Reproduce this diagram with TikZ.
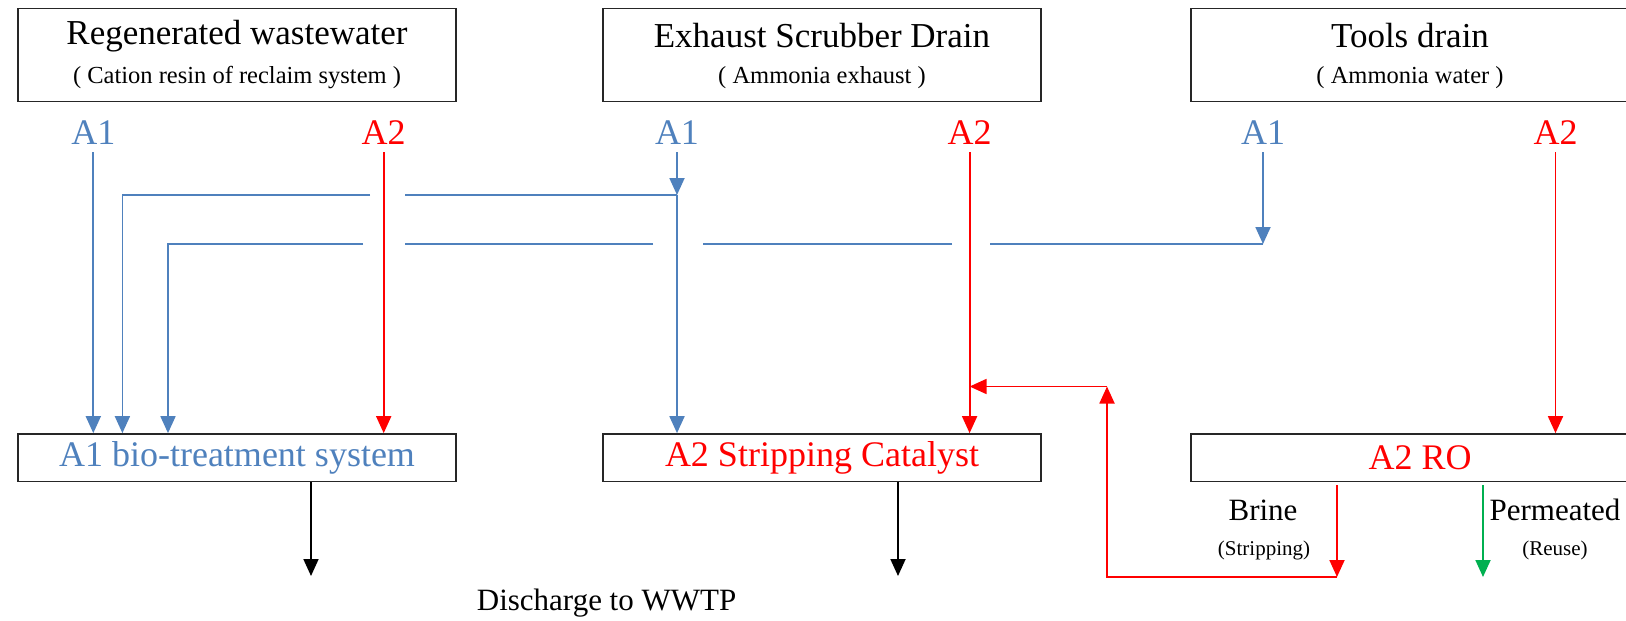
\documentclass[tikz,border=0pt]{standalone}
\usepackage{fontspec}
\setmainfont{Liberation Serif}
\usetikzlibrary{arrows.meta}
\definecolor{aone}{RGB}{79,129,189}
\definecolor{atwo}{RGB}{255,0,0}
\definecolor{perm}{RGB}{0,176,80}
\begin{document}
\begin{tikzpicture}[x=1pt,y=-1pt,
  box/.style={draw=black!85, line width=1.8pt, minimum width=438pt, inner sep=0pt},
  topbox/.style={box, minimum height=93pt},
  botbox/.style={box, minimum height=47.5pt},
  ttl/.style={inner sep=0pt, font=\fontsize{35}{40}\selectfont},
  sub/.style={inner sep=0pt, font=\fontsize{24.5}{28}\selectfont},
  lbl/.style={inner sep=0pt, font=\fontsize{36}{40}\selectfont},
  bottxt/.style={inner sep=0pt, font=\fontsize{36}{40}\selectfont},
  note/.style={inner sep=0pt, font=\fontsize{31}{36}\selectfont},
  small/.style={inner sep=0pt, font=\fontsize{21}{24}\selectfont},
  pipe/.style={line width=1.8pt},
  flow/.style={pipe, -{Triangle[length=17pt,width=15pt]}},
  bl/.style={color=aone},
  rd/.style={color=atwo},
]
\useasboundingbox (0,0) rectangle (1626,621);
\fill[white] (0,0) rectangle (1626,621);

% top boxes
\node[topbox] (src1) at (237,55) {};
\node[topbox] (src2) at (822,55) {};
\node[topbox] (src3) at (1410,55) {};
\node[ttl] (t1) at (237,36) {Regenerated wastewater};
\node[sub] (s1) at (237,78) {( Cation resin of reclaim system )};
\node[ttl] (t2) at (822,36) {Exhaust Scrubber Drain};
\node[sub] (s2) at (822,78) {( Ammonia exhaust )};
\node[ttl] (t3) at (1410,36) {Tools drain};
\node[sub] (s3) at (1410,78) {( Ammonia water )};

% labels
\node[lbl, text=aone] (l11) at (93.3,133) {A1};
\node[lbl, text=atwo] (l12) at (383.7,133) {A2};
\node[lbl, text=aone] (l21) at (677,133) {A1};
\node[lbl, text=atwo] (l22) at (969.6,133) {A2};
\node[lbl, text=aone] (l31) at (1263,133) {A1};
\node[lbl, text=atwo] (l32) at (1555.5,133) {A2};

% bottom boxes
\node[botbox] (dst1) at (237,457.8) {};
\node[botbox] (dst2) at (822,457.8) {};
\node[botbox] (dst3) at (1410,457.8) {};
\node[bottxt, text=aone] (b1) at (237,457.8) {A1 bio-treatment system};
\node[bottxt, text=atwo] (b2) at (822,457.8) {A2 Stripping Catalyst};
\node[bottxt, text=atwo] (b3) at (1420,457.8) {A2 RO};

% coordinates
\coordinate (j1) at (677,195);
\coordinate (j2) at (1263,244);
\coordinate (c1) at (122.4,195);
\coordinate (c2) at (168,244);
\coordinate (g1r) at (404.5,195);
\coordinate (g1l) at (370,195);
\coordinate (g2a) at (990,244);
\coordinate (g2b) at (952,244);
\coordinate (g2c) at (703,244);
\coordinate (g2d) at (653,244);
\coordinate (g2e) at (404.5,244);
\coordinate (g2f) at (363,244);
\coordinate (r1) at (1107,386.5);
\coordinate (r2) at (1107,577);
\coordinate (br) at (1337,577);
\coordinate (brs) at (1337,485);
\coordinate (pe) at (1483,577);
\coordinate (pes) at (1483,485);
\coordinate (d1) at (311,576);
\coordinate (d2) at (898,576);

% A1 lines (blue)
\draw[flow,bl,shorten <=7pt] (l11.south) -- (l11.south |- dst1.north);
\draw[flow,bl,shorten <=7pt] (l21.south) -- (j1);
\draw[flow,bl] (j1) -- (j1 |- dst2.north);
\draw[pipe,bl] (j1) -- (g1r);
\draw[flow,bl] (g1l) -- (c1) -- (c1 |- dst1.north);
\draw[flow,bl,shorten <=7pt] (l31.south) -- (j2);
\draw[pipe,bl] (j2) -- (g2a);
\draw[pipe,bl] (g2b) -- (g2c);
\draw[pipe,bl] (g2d) -- (g2e);
\draw[flow,bl] (g2f) -- (c2) -- (c2 |- dst1.north);

% A2 lines (red)
\draw[flow,rd,shorten <=7pt] (l12.south) -- (l12.south |- dst1.north);
\draw[flow,rd,shorten <=7pt] (l22.south) -- (l22.south |- dst2.north);
\draw[flow,rd,shorten <=7pt] (l32.south) -- (l32.south |- dst3.north);

% outputs
\draw[flow] (d1 |- dst1.south) -- (d1);
\draw[flow] (d2 |- dst2.south) -- (d2);
\draw[flow,rd] (brs) -- (br);
\draw[flow,color=perm] (pes) -- (pe);
\draw[flow,rd] (br) -- (r2) -- (r1);
\draw[flow,rd] (r1) -- (l22 |- r1);

% texts
\node[note] (dis) at (606.6,603.5) {Discharge to WWTP};
\node[note] (brine) at (1263,510) {Brine};
\node[small] (strip) at (1264,550) {(Stripping)};
\node[note] (perml) at (1555,510) {Permeated};
\node[small] (reuse) at (1555,550) {(Reuse)};
\end{tikzpicture}
\end{document}
